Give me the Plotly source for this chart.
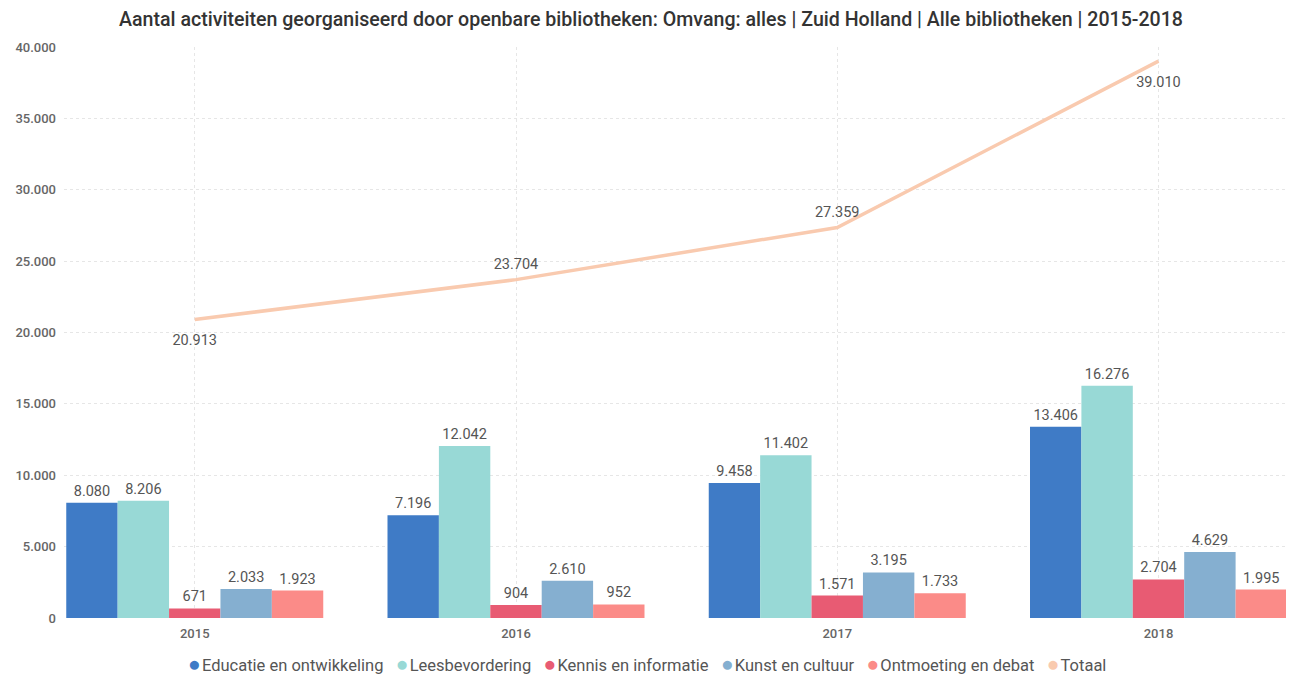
import plotly.graph_objects as go

years = ["2015", "2016", "2017", "2018"]
educatie = [8080, 7196, 9458, 13406]
leesbevordering = [8206, 12042, 11402, 16276]
kennis = [671, 904, 1571, 2704]
kunst = [2033, 2610, 3195, 4629]
ontmoeting = [1923, 952, 1733, 1995]
totaal = [20913, 23704, 27359, 39010]
totaal_textpos = ["bottom center", "top center", "top center", "bottom center"]
totaal_label_pad = [22, 10, 10, 22]

series = [
    ("Educatie en ontwikkeling", educatie, "#3F7BC6"),
    ("Leesbevordering", leesbevordering, "#98D9D6"),
    ("Kennis en informatie", kennis, "#E85B73"),
    ("Kunst en cultuur", kunst, "#85AFD0"),
    ("Ontmoeting en debat", ontmoeting, "#FB8B88"),
]
totaal_color = "#F9CAAF"

FONT = "Roboto"
TXT = "#555555"

fig = go.Figure()
for name, vals, col in series:
    fig.add_trace(go.Bar(
        x=years, y=vals, name=name, marker_color=col, marker_line_width=0,
        texttemplate="%{y:,}", textposition="outside", cliponaxis=False,
        constraintext="none",
        textfont=dict(family=FONT, size=14.5, color=TXT),
        showlegend=False, hoverinfo="skip",
    ))

fig.add_trace(go.Scatter(
    x=years, y=totaal, name="Totaal", mode="lines+markers+text",
    line=dict(color=totaal_color, width=3.5),
    marker=dict(size=totaal_label_pad, color="rgba(0,0,0,0)", opacity=0,
                line=dict(width=0, color="rgba(0,0,0,0)")),
    text=[f"{v:,}".replace(",", ".") for v in totaal],
    textposition=totaal_textpos,
    textfont=dict(family=FONT, size=14.5, color=TXT),
    cliponaxis=False, showlegend=False,
))

legend_html = "&nbsp;&nbsp;&nbsp;".join(
    f"<span style='color:{col};font-size:21px'>●</span><span style='font-size:5px'>&nbsp;</span>{name}"
    for name, _, col in series + [("Totaal", None, totaal_color)]
)
fig.add_annotation(
    xref="paper", yref="paper", x=0.4767, y=-0.0806, xanchor="center", yanchor="middle",
    text=legend_html, showarrow=False,
    font=dict(family=FONT, size=16.5, color=TXT),
)

fig.update_layout(
    width=1286, height=675,
    paper_bgcolor="white", plot_bgcolor="white",
    separators=",.",
    barmode="group", bargap=0.2, bargroupgap=0,
    margin=dict(l=54, r=7, t=39, b=65),
    showlegend=False,
    title=dict(
        text="Aantal activiteiten georganiseerd door openbare bibliotheken: Omvang: alles | Zuid Holland | Alle bibliotheken | 2015-2018",
        x=0.5, xanchor="center", y=(675 - 11) / 675, yanchor="middle",
        font=dict(family=FONT, size=19.6, color="#333333", weight=500),
    ),
    font=dict(family=FONT, color=TXT),
    xaxis=dict(
        type="category", range=[-0.407, 3.40],
        showgrid=True, gridcolor="#E6E6E6", griddash="dot", gridwidth=1,
        tickfont=dict(family=FONT, size=13, color="#666666", weight=500),
        ticks="", showline=False, zeroline=False, ticklabelstandoff=6,
    ),
    yaxis=dict(
        range=[0, 40000], dtick=5000, tickformat=",d",
        showgrid=True, gridcolor="#E6E6E6", griddash="dot", gridwidth=1,
        tickfont=dict(family=FONT, size=13, color="#666666", weight=500),
        zeroline=False, showline=False, ticks="", ticklabelstandoff=7,
    ),
)

fig.write_html("out.html")
